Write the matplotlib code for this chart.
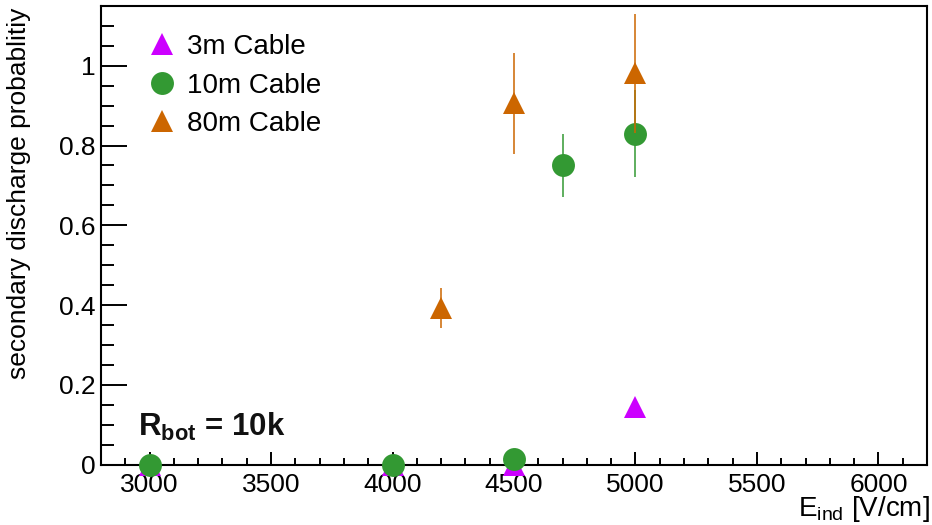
import matplotlib
matplotlib.use("Agg")
import matplotlib.pyplot as plt
from matplotlib.ticker import MultipleLocator
from matplotlib.lines import Line2D

plt.rcParams['font.family'] = ['Liberation Sans', 'DejaVu Sans']
plt.rcParams['mathtext.fontset'] = 'custom'
plt.rcParams['mathtext.rm'] = 'Liberation Sans'
plt.rcParams['mathtext.bf'] = 'Liberation Sans:bold'
plt.rcParams['mathtext.it'] = 'Liberation Sans:italic'

# data
e_3m = [3000, 4000, 4500, 5000]
p_3m = [0.0, 0.0, 0.0, 0.143]

e_10m = [3000, 4000, 4500, 4700, 5000]
p_10m = [0.0, 0.0, 0.013, 0.75, 0.83]
err_10m = [0.0, 0.0, 0.0, 0.08, 0.11]

e_80m = [4200, 4500, 5000]
p_80m = [0.393, 0.906, 0.981]
err_80m = [0.05, 0.127, 0.15]

labels = ["3m Cable", "10m Cable", "80m Cable"]
c_3m, c_10m, c_80m = "#CC00FF", "#339933", "#CC6600"

fig = plt.figure(figsize=(9.32, 5.25), dpi=100)
ax = fig.add_axes([101/932, 1-464.5/525, (927-101)/932, (464.5-6)/525])

h1 = ax.errorbar(e_3m, p_3m, fmt='^', color=c_3m, ms=16, mew=0, clip_on=False, zorder=5)
h2 = ax.errorbar(e_10m, p_10m, yerr=err_10m, fmt='o', color=c_10m, ms=16.5, mew=0,
                 elinewidth=1.1, capsize=1.5, capthick=1.1, clip_on=False, zorder=6)
h3 = ax.errorbar(e_80m, p_80m, yerr=err_80m, fmt='^', color=c_80m, ms=16, mew=0,
                 elinewidth=1.1, capsize=1.5, capthick=1.1, clip_on=False, zorder=7)
for h in (h1, h2, h3):
    for art in h.lines[1] + h.lines[2]:
        if art is not None:
            art.set_clip_on(False)

ax.set_xlim(2800, 6200)
ax.set_ylim(0, 1.15)
ax.xaxis.set_major_locator(MultipleLocator(500))
ax.xaxis.set_minor_locator(MultipleLocator(100))
ax.yaxis.set_major_locator(MultipleLocator(0.2))
ax.yaxis.set_minor_locator(MultipleLocator(0.05))
ax.yaxis.set_major_formatter(plt.FuncFormatter(lambda v, p: f"{v:g}"))

ax.tick_params(axis='both', which='both', direction='in', width=1.4, labelsize=19, colors='black')
ax.tick_params(axis='x', which='major', length=9.4, pad=6)
ax.tick_params(axis='x', which='minor', length=5)
ax.tick_params(axis='y', which='major', length=18.7, pad=4)
ax.tick_params(axis='y', which='minor', length=9.4)
for s in ax.spines.values():
    s.set_linewidth(1.5)

fig.text(930/932, 1-516/525, r"E$_{\mathrm{ind}}$ [V/cm]", fontsize=20,
         ha='right', va='baseline')
fig.text(19/932, 1-193/525, "secondary discharge probablitiy", fontsize=19,
         rotation=90, ha='center', va='center')

ax.text(0.0445, 0.0625, r"$\mathbf{R_{bot}}$ = 10k", transform=ax.transAxes,
        fontsize=22.5, fontweight='bold', color='#111111')

handles = [Line2D([], [], ls='none', marker='^', ms=16, mew=0, color=c_3m),
           Line2D([], [], ls='none', marker='o', ms=16.5, mew=0, color=c_10m),
           Line2D([], [], ls='none', marker='^', ms=16, mew=0, color=c_80m)]
leg = ax.legend(handles, labels, loc='upper left', bbox_to_anchor=(0.0436, 0.963),
                frameon=False, fontsize=20, handlelength=1.0, handletextpad=0.4,
                labelspacing=0.45, borderaxespad=0)

fig.savefig("out.png", dpi=100)
